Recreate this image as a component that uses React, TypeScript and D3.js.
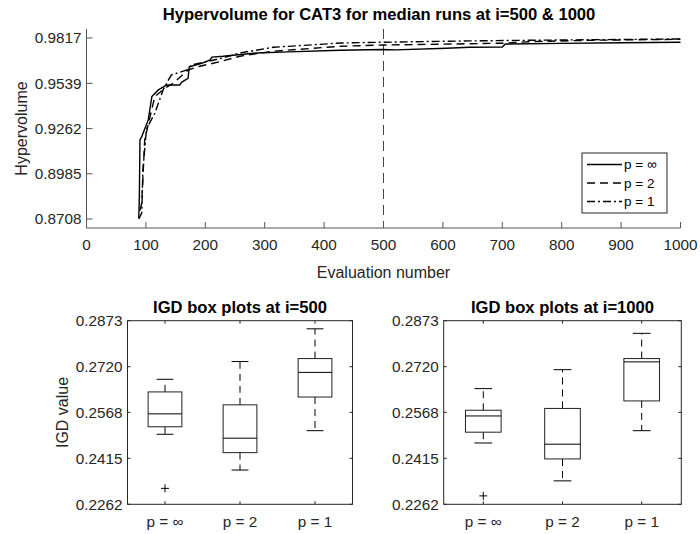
import React from 'react'
import * as d3 from 'd3'

// hypervolume traces (evaluation number, value)
const evalInf = [88, 89, 90, 93, 104, 110, 121, 135, 157, 160, 171, 173, 194, 208, 211, 230, 286, 340, 427, 499, 520, 606, 645, 700, 705, 800, 900, 1000]
const hvInf = [0.8713, 0.885, 0.9193, 0.9213, 0.9315, 0.9458, 0.9499, 0.9529, 0.9529, 0.9545, 0.957, 0.9641, 0.9662, 0.9682, 0.97, 0.9705, 0.9725, 0.9732, 0.9742, 0.9746, 0.9744, 0.9754, 0.976, 0.9762, 0.978, 0.9784, 0.9788, 0.9791]
const evalP2 = [90, 93, 98, 107, 115, 132, 146, 171, 191, 225, 258, 314, 427, 499, 600, 700, 750, 850, 1000]
const hvP2 = [0.876, 0.8807, 0.9193, 0.9335, 0.9458, 0.9509, 0.954, 0.9621, 0.9644, 0.9672, 0.9705, 0.9736, 0.9766, 0.9774, 0.9779, 0.9785, 0.9795, 0.9803, 0.9809]
const evalP1 = [88, 93, 95, 101, 115, 127, 129, 138, 143, 169, 177, 202, 230, 258, 314, 427, 499, 645, 750, 1000]
const hvP1 = [0.8708, 0.8744, 0.901, 0.926, 0.9356, 0.9479, 0.95, 0.956, 0.9591, 0.9621, 0.9652, 0.9672, 0.9695, 0.9725, 0.976, 0.9786, 0.9791, 0.9799, 0.9803, 0.9811]

const hvTicks = [0.8708, 0.8985, 0.9262, 0.9539, 0.9817]
const evalTicks = [0, 100, 200, 300, 400, 500, 600, 700, 800, 900, 1000]
const markEval = 500

const groups = ['p = ∞', 'p = 2', 'p = 1']
const igdTicks = [0.2262, 0.2415, 0.2568, 0.272, 0.2873]
// [lower whisker, q1, median, q3, upper whisker]
const igd500 = [
  [0.2495, 0.252, 0.2563, 0.2636, 0.2678],
  [0.2376, 0.2434, 0.2482, 0.2593, 0.2737],
  [0.2507, 0.2619, 0.2701, 0.2747, 0.2846],
]
const out500 = [[0.2315], [], []]
const igd1000 = [
  [0.2466, 0.2502, 0.2556, 0.2575, 0.2647],
  [0.234, 0.2413, 0.2462, 0.2581, 0.271],
  [0.2507, 0.2606, 0.2736, 0.2747, 0.2831],
]
const out1000 = [[0.229], [], []]

const font = '"Liberation Sans", Arial, Helvetica, sans-serif'
const axisCol = '#555'
const tickFs = 15.3

const BoxPanel = ({ x0, x1, title, stats, outliers, ylab }) => {
  const y = d3.scaleLinear().domain([0.2262, 0.2873]).range([504.3, 320.7])
  const x = d3.scaleLinear().domain([0.5, 3.5]).range([x0, x1])
  const unit = x(1) - x(0)
  const bw = unit * 0.45
  const cw = bw / 2
  const tk = 3
  return (
    <g>
      <rect x={x0} y={y(0.2873)} width={x1 - x0} height={y(0.2262) - y(0.2873)} fill="none" stroke="#262626" />
      {igdTicks.map(t => (
        <g key={t}>
          <line x1={x0} x2={x0 + tk} y1={y(t)} y2={y(t)} stroke="#262626" />
          <line x1={x1} x2={x1 - tk} y1={y(t)} y2={y(t)} stroke="#262626" />
          <text x={x0 - 5} y={y(t)} dy="0.35em" textAnchor="end" fontSize={tickFs} fill="#262626">
            {t.toFixed(4)}
          </text>
        </g>
      ))}
      {groups.map((g, i) => (
        <g key={g}>
          <line x1={x(i + 1)} x2={x(i + 1)} y1={y(0.2262)} y2={y(0.2262) - tk} stroke="#262626" />
          <line x1={x(i + 1)} x2={x(i + 1)} y1={y(0.2873)} y2={y(0.2873) + tk} stroke="#262626" />
          <text x={x(i + 1)} y={526.5} textAnchor="middle" fontSize={tickFs} fill="#262626">
            {g}
          </text>
        </g>
      ))}
      {stats.map((s, i) => {
        const cx = x(i + 1)
        const [lo, q1, md, q3, hi] = s
        return (
          <g key={i} stroke="#000" fill="none" strokeWidth={1}>
            <line x1={cx} x2={cx} y1={y(q3)} y2={y(hi)} strokeDasharray="7,5" />
            <line x1={cx} x2={cx} y1={y(q1)} y2={y(lo)} strokeDasharray="7,5" />
            <line x1={cx - cw / 2} x2={cx + cw / 2} y1={y(hi)} y2={y(hi)} />
            <line x1={cx - cw / 2} x2={cx + cw / 2} y1={y(lo)} y2={y(lo)} />
            <rect x={cx - bw / 2} y={y(q3)} width={bw} height={y(q1) - y(q3)} stroke="#222" />
            <line x1={cx - bw / 2} x2={cx + bw / 2} y1={y(md)} y2={y(md)} />
            {outliers[i].map((o, j) => (
              <g key={j}>
                <line x1={cx - 4} x2={cx + 4} y1={y(o)} y2={y(o)} />
                <line x1={cx} x2={cx} y1={y(o) - 4} y2={y(o) + 4} />
              </g>
            ))}
          </g>
        )
      })}
      <text x={(x0 + x1) / 2} y={313} textAnchor="middle" fontSize={16.6} fontWeight="bold" fill="#000">
        {title}
      </text>
      {ylab && (
        <text transform={`translate(68,${(y(0.2262) + y(0.2873)) / 2}) rotate(-90)`} textAnchor="middle" fontSize={16} fill="#262626">
          {ylab}
        </text>
      )}
    </g>
  )
}

export default function App() {
  const x = d3.scaleLinear().domain([0, 1000]).range([86.5, 680.5])
  const y = d3.scaleLinear().domain([0.8653, 0.9872]).range([228, 29])
  const line = d3
    .line<[number, number]>()
    .x(d => x(d[0]))
    .y(d => y(d[1]))

  const series = [
    { name: 'p = ∞', xs: evalInf, ys: hvInf, dash: undefined },
    { name: 'p = 2', xs: evalP2, ys: hvP2, dash: '8,5' },
    { name: 'p = 1', xs: evalP1, ys: hvP1, dash: '8,3,2,3' },
  ]

  const tk = 6

  return (
    <svg width={700} height={534} style={{ position: 'absolute', left: 0, top: 0, background: '#fff' }} fontFamily={font}>
      <rect width={700} height={534} fill="#fff" />
      {/* top: hypervolume traces */}
      <text x={379} y={20} textAnchor="middle" fontSize={16.6} fontWeight="bold" fill="#000">
        Hypervolume for CAT3 for median runs at i=500 &amp; 1000
      </text>
      <line x1={x(markEval)} x2={x(markEval)} y1={y(0.9872)} y2={y(0.8653)} stroke="#444" strokeDasharray="10,6" />
      {series.map(s => (
        <path
          key={s.name}
          d={line(s.xs.map((v, i) => [v, s.ys[i]]))}
          fill="none"
          stroke="#000"
          strokeWidth={1.4}
          strokeDasharray={s.dash}
        />
      ))}
      <line x1={x(0)} x2={x(1000)} y1={y(0.8653)} y2={y(0.8653)} stroke={axisCol} />
      <line x1={x(0)} x2={x(0)} y1={y(0.8653)} y2={y(0.9872)} stroke={axisCol} />
      {evalTicks.map(t => (
        <g key={t}>
          <line x1={x(t)} x2={x(t)} y1={y(0.8653)} y2={y(0.8653) - tk} stroke={axisCol} />
          <text x={x(t)} y={250} textAnchor="middle" fontSize={tickFs} fill="#262626">
            {t}
          </text>
        </g>
      ))}
      {hvTicks.map(t => (
        <g key={t}>
          <line x1={x(0)} x2={x(0) + tk} y1={y(t)} y2={y(t)} stroke={axisCol} />
          <text x={x(0) - 5} y={y(t)} dy="0.35em" textAnchor="end" fontSize={tickFs} fill="#262626">
            {t.toFixed(4)}
          </text>
        </g>
      ))}
      <text x={383.5} y={278} textAnchor="middle" fontSize={16} fill="#262626">
        Evaluation number
      </text>
      <text transform={`translate(27,${(y(0.8653) + y(0.9872)) / 2}) rotate(-90)`} textAnchor="middle" fontSize={16} fill="#262626">
        Hypervolume
      </text>
      {/* legend */}
      <rect x={582} y={153} width={85} height={60} fill="#fff" stroke="#262626" />
      {series.map((s, i) => (
        <g key={s.name}>
          <line x1={587} x2={622} y1={164.5 + i * 18.5} y2={164.5 + i * 18.5} stroke="#000" strokeWidth={1.4} strokeDasharray={s.dash} />
          <text x={624} y={164.5 + i * 18.5} dy="0.35em" fontSize={13.5} fill="#000">
            {s.name}
          </text>
        </g>
      ))}
      {/* bottom: box plots */}
      <BoxPanel x0={127.5} x1={352.5} title="IGD box plots at i=500" stats={igd500} outliers={out500} ylab="IGD value" />
      <BoxPanel x0={443.7} x1={681.3} title="IGD box plots at i=1000" stats={igd1000} outliers={out1000} ylab={null} />
    </svg>
  )
}
